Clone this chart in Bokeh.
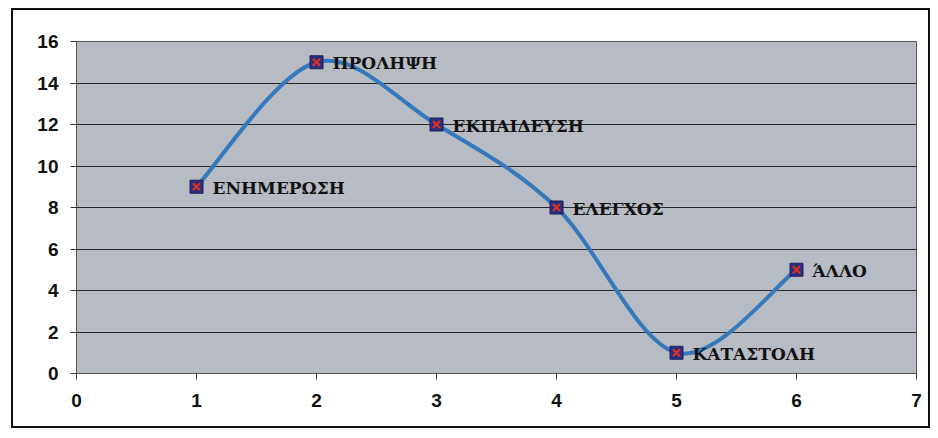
from bokeh.plotting import figure
from bokeh.models import ColumnDataSource, FixedTicker, Range1d
from bokeh.embed import file_html
from bokeh.resources import INLINE
from bokeh.core.properties import value

# data
x_vals = [1, 2, 3, 4, 5, 6]
y_vals = [9, 15, 12, 8, 1, 5]
labels = ["ΕΝΗΜΕΡΩΣΗ", "ΠΡΟΛΗΨΗ", "ΕΚΠΑΙΔΕΥΣΗ", "ΕΛΕΓΧΟΣ", "ΚΑΤΑΣΤΟΛΗ", "ΆΛΛΟ"]
x_ticks = [0, 1, 2, 3, 4, 5, 6, 7]
y_ticks = [0, 2, 4, 6, 8, 10, 12, 14, 16]

p = figure(width=919, height=420, output_backend="svg", toolbar_location=None,
           x_range=Range1d(0, 7), y_range=Range1d(0, 16),
           min_border_left=63, min_border_right=16, min_border_top=31, min_border_bottom=57)
p.styles = {"border": "2px solid #111111", "box-sizing": "border-box",
            "margin": "8px 0px 0px 11px"}

p.background_fill_color = "#b7bbc3"
p.border_fill_color = "white"
p.outline_line_color = "#555555"
p.outline_line_width = 1

p.xgrid.grid_line_color = None
p.ygrid.grid_line_color = "#2a2a2a"
p.ygrid.grid_line_width = 1.2

p.xaxis.ticker = FixedTicker(ticks=x_ticks)
p.yaxis.ticker = FixedTicker(ticks=y_ticks)
for ax in (p.xaxis, p.yaxis):
    ax.axis_line_color = "#555555"
    ax.major_tick_line_color = "#333333"
    ax.major_tick_in = 0
    ax.major_tick_out = 6
    ax.minor_tick_line_color = None
    ax.major_label_text_font = "Liberation Sans"
    ax.major_label_text_font_style = "bold"
    ax.major_label_text_font_size = "19px"
    ax.major_label_text_color = "#111111"
p.xaxis.major_label_standoff = 14
p.yaxis.major_label_standoff = 12

# smooth (Catmull-Rom style) bezier segments between consecutive data points
n = len(x_vals)
x0s, y0s, x1s, y1s, cx0, cy0, cx1, cy1 = [], [], [], [], [], [], [], []
t = 1.0 / 6.0
for i in range(n - 1):
    pxm = x_vals[i - 1] if i > 0 else x_vals[i]
    pym = y_vals[i - 1] if i > 0 else y_vals[i]
    pxp = x_vals[i + 2] if i + 2 < n else x_vals[i + 1]
    pyp = y_vals[i + 2] if i + 2 < n else y_vals[i + 1]
    x0s.append(x_vals[i]); y0s.append(y_vals[i])
    x1s.append(x_vals[i + 1]); y1s.append(y_vals[i + 1])
    cx0.append(x_vals[i] + (x_vals[i + 1] - pxm) * t)
    cy0.append(y_vals[i] + (y_vals[i + 1] - pym) * t)
    cx1.append(x_vals[i + 1] - (pxp - x_vals[i]) * t)
    cy1.append(y_vals[i + 1] - (pyp - y_vals[i]) * t)

p.bezier(x0=x0s, y0=y0s, x1=x1s, y1=y1s, cx0=cx0, cy0=cy0, cx1=cx1, cy1=cy1,
         line_color="#3479bb", line_width=4)

src = ColumnDataSource(dict(x=x_vals, y=y_vals, label=labels))
p.scatter("x", "y", source=src, marker="square", size=13,
          fill_color="#2a2f7e", line_color="#1a1f5e", line_width=1)
p.scatter("x", "y", source=src, marker="x", size=10, line_color="#e8301e", line_width=2)

p.text("x", "y", text="label", source=src, x_offset=16, y_offset=1,
       text_font=value("DejaVu Serif"), text_font_style="bold",
       text_font_size="17px", text_color="#111111",
       text_align="left", text_baseline="middle")

open("out.html", "w").write(file_html(p, INLINE))
